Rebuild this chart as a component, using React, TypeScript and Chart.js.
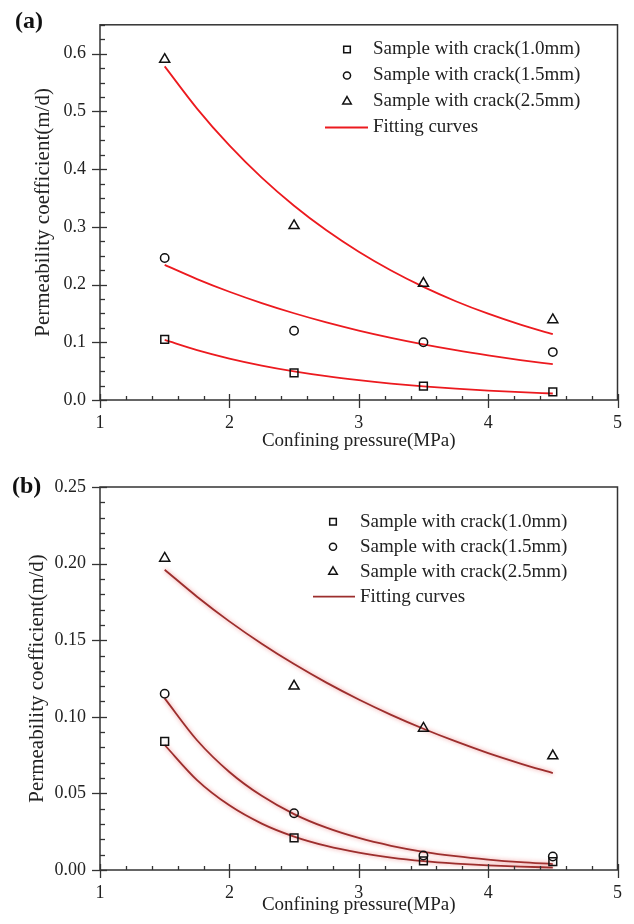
import React, { useEffect, useRef } from "react";
import { Chart, registerables } from "chart.js";

Chart.register(...registerables);

// ---------- data ----------
const pressure = [1.5, 2.5, 3.5, 4.5];
const fitPressure = [1.5, 1.75, 2.0, 2.25, 2.5, 2.75, 3.0, 3.25, 3.5, 3.75, 4.0, 4.25, 4.5];

// panel (a)
const aCrack10 = [0.105, 0.047, 0.024, 0.014];
const aCrack15 = [0.246, 0.12, 0.1, 0.083];
const aCrack25 = [0.59, 0.302, 0.202, 0.139];
const aFit10 = [0.104, 0.0864, 0.0718, 0.0597, 0.0496, 0.0412, 0.0343, 0.0285, 0.0237, 0.0197, 0.0164, 0.0136, 0.0113];
const aFit15 = [0.234, 0.2095, 0.1875, 0.1679, 0.1503, 0.1345, 0.1204, 0.1078, 0.0965, 0.0864, 0.0774, 0.0692, 0.062];
const aFit25 = [0.578, 0.5049, 0.441, 0.3852, 0.3365, 0.2939, 0.2568, 0.2243, 0.1959, 0.1711, 0.1495, 0.1306, 0.1141];

// panel (b)
const bCrack10 = [0.084, 0.021, 0.006, 0.0055];
const bCrack15 = [0.115, 0.037, 0.0095, 0.0088];
const bCrack25 = [0.2035, 0.12, 0.0925, 0.0745];
const bFit10 = [0.0816, 0.0587, 0.0422, 0.0303, 0.0218, 0.0157, 0.0113, 0.0081, 0.0058, 0.0042, 0.003, 0.0022, 0.0016];
const bFit15 = [0.112, 0.0847, 0.064, 0.0484, 0.0365, 0.0276, 0.0209, 0.0158, 0.0119, 0.009, 0.0068, 0.0051, 0.0039];
const bFit25 = [0.196, 0.1784, 0.1623, 0.1477, 0.1344, 0.1223, 0.1113, 0.1013, 0.0922, 0.0839, 0.0763, 0.0695, 0.0632];

const seriesLabels = [
  "Sample with crack(1.0mm)",
  "Sample with crack(1.5mm)",
  "Sample with crack(2.5mm)",
];
const fitLabel = "Fitting curves";
const xTitle = "Confining pressure(MPa)";
const yTitle = "Permeability coefficient(m/d)";

const FONT = "'Liberation Serif', 'Times New Roman', serif";
const TEXT = "#222";

// ---------- plugins ----------
function drawMarker(ctx: CanvasRenderingContext2D, style: string, x: number, y: number, r: number) {
  ctx.beginPath();
  if (style === "rect") {
    const s = Math.SQRT1_2 * r;
    ctx.rect(x - s, y - s, 2 * s, 2 * s);
  } else if (style === "circle") {
    ctx.arc(x, y, r, 0, Math.PI * 2);
  } else if (style === "triangle") {
    ctx.moveTo(x, y - r);
    ctx.lineTo(x + r * Math.sin(Math.PI / 3), y + r * 0.5);
    ctx.lineTo(x - r * Math.sin(Math.PI / 3), y + r * 0.5);
    ctx.closePath();
  }
  ctx.stroke();
}

const frameTicks = {
  id: "frameTicks",
  afterDraw(chart: any, _a: any, o: any) {
    const { ctx, chartArea: ca, scales } = chart;
    const xs = scales.x;
    const ys = scales.y;
    ctx.save();
    ctx.strokeStyle = "#333";
    ctx.lineWidth = 1.5;
    ctx.strokeRect(ca.left, ca.top, ca.right - ca.left, ca.bottom - ca.top);
    ctx.lineWidth = 1.3;
    const isMul = (v: number, s: number) => Math.abs(v / s - Math.round(v / s)) < 1e-6;
    const nx = Math.round((xs.max - xs.min) / o.xMinor);
    for (let i = 0; i <= nx; i++) {
      const v = xs.min + i * o.xMinor;
      const px = Math.round(xs.getPixelForValue(v)) + 0.5;
      ctx.beginPath();
      if (isMul(v, o.xMajor)) {
        ctx.moveTo(px, ca.bottom - 6);
        ctx.lineTo(px, ca.bottom + 8);
      } else {
        ctx.moveTo(px, ca.bottom - 4);
        ctx.lineTo(px, ca.bottom);
      }
      ctx.stroke();
    }
    const ny = Math.round((ys.max - ys.min) / o.yMinor);
    for (let i = 0; i <= ny; i++) {
      const v = ys.min + i * o.yMinor;
      const py = Math.round(ys.getPixelForValue(v)) + 0.5;
      ctx.beginPath();
      if (isMul(v, o.yMajor)) {
        ctx.moveTo(ca.left - 8, py);
        ctx.lineTo(ca.left + 7, py);
      } else {
        ctx.moveTo(ca.left, py);
        ctx.lineTo(ca.left + 5, py);
      }
      ctx.stroke();
    }
    ctx.restore();
  },
};

const lineGlow = {
  id: "lineGlow",
  beforeDatasetDraw(chart: any, args: any, o: any) {
    const ds = chart.data.datasets[args.index];
    if (!o || !o.color || !ds.showLine) return;
    const ctx = chart.ctx;
    ctx.save();
    ctx.shadowColor = o.color;
    ctx.shadowBlur = o.blur;
  },
  afterDatasetDraw(chart: any, args: any, o: any) {
    const ds = chart.data.datasets[args.index];
    if (!o || !o.color || !ds.showLine) return;
    chart.ctx.restore();
  },
};

const crackLegend = {
  id: "crackLegend",
  afterDraw(chart: any, _a: any, o: any) {
    const { ctx } = chart;
    ctx.save();
    ctx.font = `${o.fontSize}px ${FONT}`;
    ctx.textBaseline = "middle";
    ctx.textAlign = "left";
    let row = 0;
    chart.data.datasets.forEach((ds: any) => {
      if (!ds.label || ds.label.startsWith("_")) return;
      const y = o.y + row * o.gap;
      ctx.strokeStyle = ds.borderColor;
      if (ds.showLine) {
        ctx.lineWidth = ds.borderWidth;
        ctx.beginPath();
        ctx.moveTo(o.lineX0, y);
        ctx.lineTo(o.lineX1, y);
        ctx.stroke();
      } else {
        ctx.lineWidth = ds.pointBorderWidth;
        drawMarker(ctx, ds.pointStyle, o.markerX, y, ds.pointRadius * 0.85);
      }
      ctx.fillStyle = TEXT;
      ctx.fillText(ds.label, o.textX, y);
      row++;
    });
    ctx.restore();
  },
};

const panelLabel = {
  id: "panelLabel",
  afterDraw(chart: any, _a: any, o: any) {
    const { ctx } = chart;
    ctx.save();
    ctx.font = `bold ${o.size}px ${FONT}`;
    ctx.fillStyle = "#111";
    ctx.textBaseline = "alphabetic";
    ctx.fillText(o.text, o.x, o.y);
    ctx.restore();
  },
};

// ---------- chart builder ----------
type PanelCfg = {
  crack: number[][];
  fit: number[][];
  fitColor: string;
  glow: any;
  yMax: number;
  yMajor: number;
  yMinor: number;
  decimals: number;
  padTop: number;
  xAxisH: number;
  yTitlePad: number;
  legend: any;
  label: any;
};

const styles = ["rect", "circle", "triangle"];
const radii = [5.5, 4.2, 5.8];

function buildConfig(c: PanelCfg): any {
  const datasets: any[] = [];
  c.crack.forEach((vals, i) => {
    datasets.push({
      label: seriesLabels[i],
      data: pressure.map((x, j) => ({ x, y: vals[j] })),
      showLine: false,
      pointStyle: styles[i],
      pointRadius: radii[i],
      pointBorderWidth: 1.5,
      borderColor: "#111",
      backgroundColor: "rgba(0,0,0,0)",
      order: 0,
    });
  });
  c.fit.forEach((vals, i) => {
    datasets.push({
      label: i === 0 ? fitLabel : "_fit" + i,
      data: fitPressure.map((x, j) => ({ x, y: vals[j] })),
      showLine: true,
      pointRadius: 0,
      borderColor: c.fitColor,
      borderWidth: 1.8,
      cubicInterpolationMode: "monotone",
      fill: false,
      order: 1,
    });
  });
  return {
    type: "scatter",
    data: { datasets },
    options: {
      responsive: false,
      animation: false,
      events: [],
      layout: { padding: { top: c.padTop, right: 12, left: 0, bottom: 0 } },
      plugins: {
        legend: { display: false },
        tooltip: { enabled: false },
        frameTicks: { xMajor: 1, xMinor: 0.2, yMajor: c.yMajor, yMinor: c.yMinor },
        lineGlow: c.glow,
        crackLegend: c.legend,
        panelLabel: c.label,
      },
      scales: {
        x: {
          type: "linear",
          min: 1,
          max: 5,
          grid: { display: false, drawTicks: false },
          border: { display: false },
          ticks: { stepSize: 1, font: { size: 18, family: FONT }, color: TEXT, padding: 12 },
          title: {
            display: true,
            text: xTitle,
            font: { size: 19, family: FONT },
            color: TEXT,
            padding: { top: 0, bottom: 8 },
          },
          afterFit: (s: any) => {
            s.height = c.xAxisH;
          },
        },
        y: {
          type: "linear",
          min: 0,
          max: c.yMax,
          grid: { display: false, drawTicks: false },
          border: { display: false },
          ticks: {
            stepSize: c.yMajor,
            includeBounds: false,
            font: { size: 18, family: FONT },
            color: TEXT,
            padding: 14,
            callback: (v: any) => Number(v).toFixed(c.decimals),
          },
          title: {
            display: true,
            text: yTitle,
            font: { size: 21, family: FONT },
            color: TEXT,
            padding: { top: c.yTitlePad, bottom: 0 },
          },
          afterFit: (s: any) => {
            s.width = 100;
          },
        },
      },
    },
    plugins: [frameTicks, lineGlow, crackLegend, panelLabel],
  };
}

function Panel({ cfg, height }: { cfg: PanelCfg; height: number }) {
  const ref = useRef<HTMLCanvasElement | null>(null);
  useEffect(() => {
    if (!ref.current) return;
    const chart = new Chart(ref.current, buildConfig(cfg));
    return () => chart.destroy();
  }, []);
  return <canvas ref={ref} width={634} height={height} style={{ display: "block", width: 634, height }} />;
}

const panelA: PanelCfg = {
  crack: [aCrack10, aCrack15, aCrack25],
  fit: [aFit10, aFit15, aFit25],
  fitColor: "#ec1a1f",
  glow: {},
  yMax: 0.65,
  yMajor: 0.1,
  yMinor: 0.025,
  decimals: 1,
  padTop: 15,
  xAxisH: 60,
  yTitlePad: 31,
  legend: { fontSize: 19, markerX: 347, textX: 373, lineX0: 325, lineX1: 368, y: 49.5, gap: 26 },
  label: { text: "(a)", size: 24, x: 15, y: 28 },
};

const panelB: PanelCfg = {
  crack: [bCrack10, bCrack15, bCrack25],
  fit: [bFit10, bFit15, bFit25],
  fitColor: "#9c2e2d",
  glow: { color: "rgba(235,120,120,0.85)", blur: 4 },
  yMax: 0.25,
  yMajor: 0.05,
  yMinor: 0.01,
  decimals: 2,
  padTop: 27,
  xAxisH: 54,
  yTitlePad: 25,
  legend: { fontSize: 19, markerX: 333, textX: 360, lineX0: 313, lineX1: 355, y: 61.7, gap: 25 },
  label: { text: "(b)", size: 24, x: 12, y: 33 },
};

export default function App() {
  useEffect(() => {
    document.body.style.margin = "0";
    document.body.style.background = "#fff";
  }, []);
  Chart.defaults.font.family = FONT;
  return (
    <div style={{ width: 634, height: 924, background: "#fff" }}>
      <Panel cfg={panelA} height={460} />
      <Panel cfg={panelB} height={464} />
    </div>
  );
}
